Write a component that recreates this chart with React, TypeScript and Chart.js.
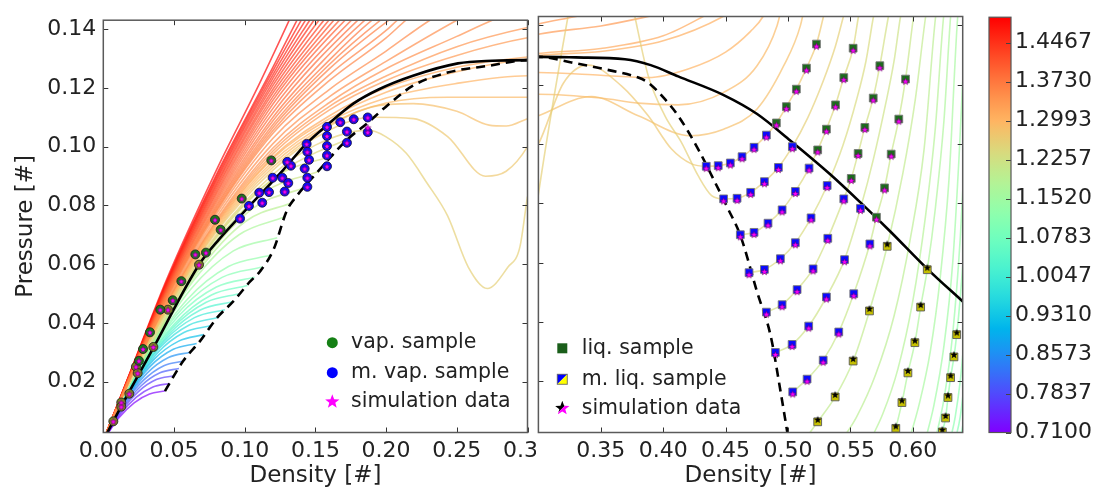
import React, { useEffect, useRef } from "react";
import { Chart, registerables } from "chart.js";
Chart.register(...registerables);

type Pt = [number, number];
const FAMILY = '"DejaVu Sans", "Liberation Sans", sans-serif';

// ---------------- axes / labels ----------------
const xLeftRange: Pt = [0, 0.3];
const xRightRange: Pt = [0.3, 0.64];
const yRange: Pt = [0.0027, 0.143];
const yTickValues = [0.02, 0.04, 0.06, 0.08, 0.1, 0.12, 0.14];
const xTickLeft = [0, 0.05, 0.1, 0.15, 0.2, 0.25, 0.3];
const xTickRight = [0.35, 0.4, 0.45, 0.5, 0.55, 0.6];
const cbRange: Pt = [0.71, 1.495];
const cbTickValues = [0.71, 0.7837, 0.8573, 0.931, 1.0047, 1.0783, 1.152, 1.2257, 1.2993, 1.373, 1.4467];
const xTitle = "Density [#]";
const yTitle = "Pressure [#]";
const legendLeftLabels = ["vap. sample", "m. vap. sample", "simulation data"];
const legendRightLabels = ["liq. sample", "m. liq. sample", "simulation data"];

// ---------------- samples ----------------
const vapSample: Pt[] = [[0.079, 0.0751], [0.083, 0.0717], [0.0651, 0.0633], [0.0726, 0.0639], [0.0552, 0.0542], [0.0491, 0.0477], [0.0403, 0.0445], [0.033, 0.0368], [0.0281, 0.0311], [0.0252, 0.0271], [0.0979, 0.0823], [0.1188, 0.0953]];
const vapSampleOlive: Pt[] = [[0.0677, 0.0598], [0.0458, 0.0445], [0.0354, 0.0318], [0.0231, 0.0251], [0.0243, 0.0229], [0.0184, 0.0159], [0.0127, 0.0129], [0.0127, 0.0115], [0.0071, 0.0065]];
const mVapSample: Pt[] = [[0.0967, 0.0755], [0.103, 0.0798], [0.1103, 0.0843], [0.1124, 0.0809], [0.1172, 0.0845], [0.1198, 0.0894], [0.1266, 0.0894], [0.1308, 0.0876], [0.1283, 0.0847], [0.1301, 0.0948], [0.1327, 0.0935], [0.1424, 0.0925], [0.1443, 0.0894], [0.1443, 0.0863], [0.1438, 0.1009], [0.1443, 0.0982], [0.1455, 0.0955], [0.1582, 0.1067], [0.1582, 0.1036], [0.1582, 0.1002], [0.1582, 0.097], [0.1582, 0.0933], [0.1676, 0.1083], [0.1723, 0.1051], [0.1723, 0.1013], [0.1771, 0.1093], [0.187, 0.1099], [0.187, 0.1049]];
const simVapExtra: Pt[] = [[0.187, 0.1065]];

const liqSample: Pt[] = [[0.5228, 0.1337], [0.5148, 0.1256], [0.5067, 0.1185], [0.4987, 0.1126], [0.4907, 0.1071], [0.5308, 0.105], [0.5238, 0.098], [0.5522, 0.1323], [0.5736, 0.1264], [0.5942, 0.1219], [0.5447, 0.1224], [0.5683, 0.1155], [0.5381, 0.1132], [0.5888, 0.1084], [0.5616, 0.1056], [0.5827, 0.0966], [0.5562, 0.0968], [0.5774, 0.0852], [0.5507, 0.0884], [0.5709, 0.0753]];
const mLiqSample: Pt[] = [
  [0.4345, 0.0925], [0.4441, 0.0927], [0.4538, 0.0936], [0.4632, 0.0957], [0.4728, 0.0989], [0.4827, 0.103],
  [0.4484, 0.0815], [0.4592, 0.0817], [0.4701, 0.0837], [0.4811, 0.0873], [0.4923, 0.0921], [0.5035, 0.0991],
  [0.4618, 0.0694], [0.4728, 0.0702], [0.484, 0.0733], [0.4953, 0.0778], [0.5059, 0.084], [0.5169, 0.0919],
  [0.4688, 0.0566], [0.4811, 0.0577], [0.4939, 0.0613], [0.5059, 0.0667], [0.5185, 0.0751], [0.5314, 0.086],
  [0.4827, 0.0433], [0.4953, 0.0458], [0.5073, 0.0509], [0.5201, 0.0579], [0.5319, 0.0682], [0.5447, 0.0815],
  [0.4899, 0.0297], [0.5033, 0.0324], [0.5166, 0.0386], [0.5308, 0.0484], [0.5453, 0.061], [0.5581, 0.0783],
  [0.5038, 0.0164], [0.5153, 0.0207], [0.5282, 0.0271], [0.5407, 0.0366], [0.5527, 0.0495], [0.5656, 0.0663]];
const mLiqSampleYellow: Pt[] = [
  [0.5238, 0.0063], [0.5378, 0.0147], [0.5522, 0.0268], [0.5653, 0.0437], [0.5795, 0.0655],
  [0.5864, 0.0041], [0.5913, 0.0128], [0.5961, 0.0228], [0.6017, 0.033], [0.6063, 0.045], [0.6116, 0.0576],
  [0.6237, 0.0029], [0.6263, 0.0076], [0.6282, 0.0145], [0.6303, 0.0212], [0.633, 0.0282], [0.6352, 0.0357]];

// ---------------- coexistence / spinodal ----------------
const binodal: Pt[] = [[0, 0], [0.0071, 0.0066], [0.0354, 0.0315], [0.0677, 0.0598], [0.082, 0.0685], [0.099, 0.0775], [0.1273, 0.0921], [0.1438, 0.1011], [0.1583, 0.1073], [0.1768, 0.1146], [0.195, 0.1195], [0.219, 0.1241], [0.2508, 0.1283], [0.275, 0.1292], [0.3, 0.1294], [0.33, 0.1292], [0.3693, 0.1286], [0.39, 0.1266], [0.412, 0.1228], [0.4485, 0.1165], [0.4753, 0.1101], [0.502, 0.1011], [0.534, 0.0897], [0.558, 0.0803], [0.582, 0.0705], [0.6116, 0.0579], [0.6405, 0.0467]];
const spinodal: Pt[] = [[0.0436, 0.0168], [0.0566, 0.0271], [0.0684, 0.0338], [0.0802, 0.0416], [0.0919, 0.0473], [0.1037, 0.054], [0.1108, 0.0575], [0.1206, 0.0652], [0.1297, 0.0781], [0.1368, 0.0832], [0.1497, 0.0904], [0.1721, 0.1022], [0.1863, 0.1078], [0.1997, 0.1135], [0.219, 0.1207], [0.2435, 0.1252], [0.2728, 0.1275], [0.3, 0.1294], [0.3265, 0.1275], [0.3533, 0.1252], [0.38, 0.1224], [0.388, 0.1207], [0.4014, 0.1151], [0.412, 0.1095], [0.428, 0.0983], [0.4415, 0.0871], [0.452, 0.0781], [0.4619, 0.0691], [0.4753, 0.05], [0.486, 0.0355], [0.4941, 0.0164], [0.4994, 0.0029], [0.5005, 0]];

// ---------------- isotherms: vapour branches ----------------
const v071: Pt[] = [[0, 0], [0.0109, 0.0076], [0.0218, 0.0128], [0.0327, 0.0158], [0.0436, 0.0168]];
const v074: Pt[] = [[0, 0], [0.0117, 0.0087], [0.0234, 0.0147], [0.0351, 0.0182], [0.0468, 0.0194]];
const v077: Pt[] = [[0, 0], [0.0125, 0.0098], [0.025, 0.0167], [0.0375, 0.0207], [0.05, 0.022]];
const v080: Pt[] = [[0, 0], [0.0134, 0.0109], [0.0268, 0.0186], [0.0401, 0.023], [0.0535, 0.0245]];
const v083: Pt[] = [[0, 0], [0.0143, 0.0121], [0.0285, 0.0205], [0.0428, 0.0254], [0.057, 0.027]];
const v086: Pt[] = [[0, 0], [0.0154, 0.0133], [0.0308, 0.0228], [0.0461, 0.0282], [0.0615, 0.03]];
const v089: Pt[] = [[0, 0], [0.0165, 0.0145], [0.033, 0.0251], [0.0495, 0.031], [0.066, 0.033]];
const v092: Pt[] = [[0, 0], [0.0178, 0.0158], [0.0355, 0.0274], [0.0533, 0.0338], [0.071, 0.036]];
const v095: Pt[] = [[0, 0], [0.019, 0.0171], [0.038, 0.0296], [0.057, 0.0367], [0.076, 0.039]];
const v0975: Pt[] = [[0, 0], [0.0203, 0.0184], [0.0405, 0.0318], [0.0608, 0.0393], [0.081, 0.0418]];
const v100: Pt[] = [[0, 0], [0.0215, 0.0197], [0.043, 0.0338], [0.0645, 0.0418], [0.086, 0.0445]];
const v1025: Pt[] = [[0, 0], [0.0229, 0.0211], [0.0458, 0.0359], [0.0686, 0.0444], [0.0915, 0.0472]];
const v105: Pt[] = [[0, 0], [0.0243, 0.0225], [0.0485, 0.038], [0.0728, 0.047], [0.097, 0.05]];
const v107: Pt[] = [[0, 0], [0.0255, 0.0237], [0.051, 0.04], [0.0765, 0.0495], [0.102, 0.0527]];
const v109: Pt[] = [[0, 0], [0.027, 0.025], [0.0535, 0.0425], [0.08, 0.0522], [0.107, 0.0555]];
const v111: Pt[] = [[0, 0], [0.028, 0.0261], [0.056, 0.045], [0.084, 0.0555], [0.1125, 0.059]];
const v113: Pt[] = [[0, 0], [0.0295, 0.0277], [0.059, 0.0478], [0.0885, 0.0592], [0.118, 0.063]];
const v115: Pt[] = [[0, 0], [0.031, 0.0292], [0.062, 0.0515], [0.092, 0.0645], [0.123, 0.069]];
const v117: Pt[] = [[0, 0], [0.032, 0.0302], [0.064, 0.0545], [0.096, 0.07], [0.128, 0.076]];
const v119: Pt[] = [[0, 0], [0.0335, 0.0317], [0.067, 0.0575], [0.1005, 0.0745], [0.134, 0.081]];
const v1205: Pt[] = [[0, 0], [0.0355, 0.0337], [0.071, 0.061], [0.1065, 0.0792], [0.142, 0.086]];
const v122: Pt[] = [[0, 0], [0.038, 0.0362], [0.076, 0.0655], [0.114, 0.0845], [0.152, 0.0915]];
const v1232: Pt[] = [[0, 0], [0.0408, 0.0392], [0.0815, 0.0703], [0.1223, 0.0898], [0.163, 0.097]];
const v1245: Pt[] = [[0, 0], [0.0438, 0.0425], [0.0875, 0.0735], [0.1313, 0.093], [0.175, 0.103]];
const vaporTemps = [0.71, 0.74, 0.77, 0.8, 0.83, 0.86, 0.89, 0.92, 0.95, 0.975, 1.0, 1.025, 1.05, 1.07, 1.09, 1.11, 1.13, 1.15, 1.17, 1.19, 1.205, 1.22, 1.232, 1.245];
const vaporBranches = [v071, v074, v077, v080, v083, v086, v089, v092, v095, v0975, v100, v1025, v105, v107, v109, v111, v113, v115, v117, v119, v1205, v122, v1232, v1245];

// ---------------- isotherms: near-critical (full range) ----------------
const i1258: Pt[] = [[0, 0], [0.02, 0.0213], [0.045, 0.0442], [0.08, 0.07], [0.12, 0.0905], [0.15, 0.1005], [0.1875, 0.1056], [0.1997, 0.1034], [0.2143, 0.0977], [0.2289, 0.0876], [0.2435, 0.0764], [0.2581, 0.059], [0.2716, 0.0517], [0.2862, 0.059], [0.2946, 0.0658], [0.3, 0.083], [0.3237, 0.143], [0.335, 0.168], [0.35, 0.178], [0.365, 0.168], [0.3773, 0.143], [0.388, 0.123], [0.4014, 0.1095], [0.4147, 0.1005], [0.428, 0.0893], [0.4388, 0.0826], [0.4484, 0.0815], [0.4592, 0.0817], [0.4701, 0.0837], [0.4811, 0.0873], [0.4923, 0.0921], [0.5035, 0.0991], [0.516, 0.109], [0.528, 0.121], [0.538, 0.133], [0.5444, 0.143], [0.55, 0.152]];
const i1272: Pt[] = [[0, 0], [0.02, 0.0214], [0.045, 0.0445], [0.08, 0.071], [0.12, 0.092], [0.15, 0.103], [0.19, 0.11], [0.2192, 0.1095], [0.2435, 0.1034], [0.2703, 0.0899], [0.2849, 0.0916], [0.3, 0.1], [0.32, 0.1205], [0.3398, 0.1266], [0.3665, 0.1196], [0.388, 0.1095], [0.4067, 0.0983], [0.4227, 0.0933], [0.4345, 0.0925], [0.4441, 0.0927], [0.4538, 0.0936], [0.4632, 0.0957], [0.4728, 0.0989], [0.4827, 0.103], [0.4907, 0.1071], [0.4987, 0.1126], [0.5067, 0.1185], [0.5148, 0.1256], [0.5228, 0.1337], [0.5284, 0.143], [0.532, 0.15]];
const i1285: Pt[] = [[0, 0], [0.02, 0.0215], [0.045, 0.0448], [0.08, 0.0715], [0.12, 0.093], [0.16, 0.107], [0.19, 0.1135], [0.2192, 0.1146], [0.25, 0.112], [0.2728, 0.1073], [0.2849, 0.107], [0.3, 0.1095], [0.3425, 0.116], [0.38, 0.1095], [0.4216, 0.1028], [0.4484, 0.105], [0.4752, 0.1118], [0.4966, 0.1264], [0.51, 0.14], [0.515, 0.15]];
const i1293: Pt[] = [[0, 0], [0.02, 0.0216], [0.045, 0.0451], [0.08, 0.072], [0.12, 0.094], [0.16, 0.1075], [0.2, 0.1148], [0.2435, 0.1168], [0.3, 0.1168], [0.35, 0.1155], [0.38, 0.1138], [0.412, 0.1132], [0.4484, 0.1174], [0.4752, 0.1264], [0.4913, 0.14], [0.497, 0.15]];
const i1300: Pt[] = [[0, 0], [0.02, 0.0217], [0.045, 0.0454], [0.08, 0.0725], [0.12, 0.095], [0.16, 0.1085], [0.2, 0.1165], [0.25, 0.1215], [0.3, 0.1241], [0.35, 0.1232], [0.388, 0.1224], [0.42, 0.1253], [0.45, 0.131], [0.47, 0.138], [0.48, 0.143], [0.487, 0.15]];
const i1310: Pt[] = [[0, 0], [0.02, 0.0218], [0.045, 0.0457], [0.08, 0.073], [0.12, 0.096], [0.16, 0.1095], [0.2, 0.1185], [0.25, 0.1255], [0.3, 0.1298], [0.35, 0.1312], [0.4, 0.1348], [0.448, 0.143], [0.46, 0.1465]];
const i1318: Pt[] = [[0, 0], [0.02, 0.0219], [0.045, 0.046], [0.08, 0.0735], [0.12, 0.0965], [0.16, 0.1105], [0.2, 0.12], [0.25, 0.127], [0.3, 0.1305], [0.35, 0.1322], [0.4, 0.1365], [0.432, 0.143], [0.45, 0.1475]];
const i1335: Pt[] = [[0, 0], [0.02, 0.022], [0.045, 0.0464], [0.08, 0.074], [0.12, 0.0975], [0.16, 0.1125], [0.2, 0.1225], [0.25, 0.131], [0.3, 0.137], [0.35, 0.1398], [0.388, 0.143], [0.42, 0.146]];
const i1342: Pt[] = [[0, 0], [0.02, 0.0221], [0.045, 0.0467], [0.08, 0.0745], [0.12, 0.0985], [0.16, 0.1137], [0.2, 0.124], [0.25, 0.134], [0.3, 0.1405], [0.33, 0.143], [0.36, 0.146]];
const loopTemps = [1.258, 1.272, 1.285, 1.293, 1.3, 1.31, 1.318, 1.335, 1.342];
const loopCurves = [i1258, i1272, i1285, i1293, i1300, i1310, i1318, i1335, i1342];

// ---------------- isotherms: supercritical (leave the top) ----------------
const s1347: Pt[] = [[0, 0], [0.02, 0.0222], [0.045, 0.047], [0.08, 0.075], [0.12, 0.0995], [0.16, 0.115], [0.2, 0.1265], [0.25, 0.1375], [0.275, 0.143], [0.29, 0.146]];
const s1350: Pt[] = [[0, 0], [0.02, 0.0223], [0.045, 0.0475], [0.08, 0.076], [0.12, 0.101], [0.16, 0.117], [0.2, 0.129], [0.25, 0.143], [0.27, 0.148]];
const s1355: Pt[] = [[0, 0], [0.02, 0.0224], [0.045, 0.048], [0.08, 0.077], [0.12, 0.1028], [0.16, 0.1195], [0.2, 0.1325], [0.231, 0.143], [0.25, 0.148]];
const s1360: Pt[] = [[0, 0], [0.02, 0.0225], [0.045, 0.0485], [0.08, 0.0778], [0.12, 0.1045], [0.16, 0.1225], [0.2, 0.137], [0.214, 0.143], [0.23, 0.149]];
const s1364: Pt[] = [[0, 0], [0.02, 0.0226], [0.045, 0.0487], [0.08, 0.0783], [0.12, 0.1055], [0.16, 0.1245], [0.2, 0.1395], [0.208, 0.143], [0.225, 0.149]];
const s1368: Pt[] = [[0, 0], [0.02, 0.0227], [0.045, 0.049], [0.08, 0.0788], [0.12, 0.1065], [0.16, 0.1265], [0.202, 0.143], [0.22, 0.149]];
const s1372: Pt[] = [[0, 0], [0.02, 0.0228], [0.045, 0.0493], [0.08, 0.0794], [0.12, 0.1075], [0.16, 0.128], [0.196, 0.143], [0.213, 0.149]];
const s1378: Pt[] = [[0, 0], [0.02, 0.0229], [0.045, 0.0496], [0.08, 0.08], [0.12, 0.1088], [0.16, 0.1295], [0.19, 0.143], [0.21, 0.15]];
const s1384: Pt[] = [[0, 0], [0.02, 0.023], [0.045, 0.0499], [0.08, 0.0808], [0.12, 0.11], [0.16, 0.1315], [0.185, 0.143], [0.2, 0.149]];
const s1390: Pt[] = [[0, 0], [0.02, 0.0231], [0.045, 0.0502], [0.08, 0.0815], [0.12, 0.1115], [0.18, 0.143], [0.2, 0.151]];
const s1397: Pt[] = [[0, 0], [0.02, 0.0232], [0.045, 0.0505], [0.08, 0.0822], [0.12, 0.113], [0.1755, 0.143], [0.192, 0.15]];
const s1405: Pt[] = [[0, 0], [0.02, 0.0233], [0.045, 0.0509], [0.08, 0.083], [0.12, 0.1145], [0.171, 0.143], [0.19, 0.151]];
const s1412: Pt[] = [[0, 0], [0.02, 0.0234], [0.045, 0.0512], [0.08, 0.0838], [0.12, 0.1158], [0.167, 0.143], [0.182, 0.15]];
const s1420: Pt[] = [[0, 0], [0.02, 0.0235], [0.045, 0.0516], [0.08, 0.0845], [0.12, 0.117], [0.163, 0.143], [0.18, 0.152]];
const s1427: Pt[] = [[0, 0], [0.02, 0.0236], [0.045, 0.052], [0.08, 0.0853], [0.12, 0.1183], [0.1595, 0.143], [0.172, 0.15]];
const s1435: Pt[] = [[0, 0], [0.02, 0.0237], [0.045, 0.0523], [0.08, 0.086], [0.12, 0.1195], [0.156, 0.143], [0.17, 0.151]];
const s1442: Pt[] = [[0, 0], [0.02, 0.0238], [0.045, 0.0526], [0.08, 0.0868], [0.12, 0.1208], [0.1525, 0.143], [0.164, 0.15]];
const s1450: Pt[] = [[0, 0], [0.02, 0.0239], [0.045, 0.053], [0.08, 0.0875], [0.12, 0.122], [0.149, 0.143], [0.16, 0.15]];
const s1457: Pt[] = [[0, 0], [0.02, 0.024], [0.045, 0.0533], [0.08, 0.0883], [0.12, 0.1233], [0.146, 0.143], [0.157, 0.151]];
const s1465: Pt[] = [[0, 0], [0.02, 0.0241], [0.045, 0.0536], [0.08, 0.089], [0.12, 0.1245], [0.143, 0.143], [0.155, 0.152]];
const s1472: Pt[] = [[0, 0], [0.02, 0.0242], [0.045, 0.054], [0.08, 0.0898], [0.12, 0.1258], [0.14, 0.143], [0.152, 0.153]];
const s1480: Pt[] = [[0, 0], [0.02, 0.0243], [0.045, 0.0543], [0.08, 0.0905], [0.12, 0.127], [0.137, 0.143], [0.15, 0.155]];
const s1495: Pt[] = [[0, 0], [0.02, 0.0245], [0.045, 0.055], [0.08, 0.092], [0.11, 0.121], [0.1315, 0.143], [0.14, 0.152]];
const superTemps = [1.347, 1.35, 1.355, 1.36, 1.364, 1.368, 1.372, 1.378, 1.384, 1.39, 1.397, 1.405, 1.412, 1.42, 1.427, 1.435, 1.442, 1.45, 1.457, 1.465, 1.472, 1.48, 1.495];
const superCurves = [s1347, s1350, s1355, s1360, s1364, s1368, s1372, s1378, s1384, s1390, s1397, s1405, s1412, s1420, s1427, s1435, s1442, s1450, s1457, s1465, s1472, s1480, s1495];

// ---------------- isotherms: liquid branches ----------------
const l1245: Pt[] = [[0.4618, 0.0694], [0.4728, 0.0702], [0.484, 0.0733], [0.4953, 0.0778], [0.5059, 0.084], [0.5169, 0.0919], [0.5238, 0.098], [0.5308, 0.105], [0.5381, 0.1132], [0.5447, 0.1224], [0.5522, 0.1323], [0.5565, 0.143], [0.56, 0.15]];
const l1238: Pt[] = [[0.4688, 0.0566], [0.4811, 0.0577], [0.4939, 0.0613], [0.5059, 0.0667], [0.5185, 0.0751], [0.5314, 0.086], [0.544, 0.0995], [0.555, 0.115], [0.5625, 0.128], [0.5685, 0.143], [0.572, 0.15]];
const l1230: Pt[] = [[0.4827, 0.0433], [0.4953, 0.0458], [0.5073, 0.0509], [0.5201, 0.0579], [0.5319, 0.0682], [0.5447, 0.0815], [0.5507, 0.0884], [0.5562, 0.0968], [0.5616, 0.1056], [0.5683, 0.1155], [0.5736, 0.1264], [0.5805, 0.143], [0.584, 0.15]];
const l1222: Pt[] = [[0.4899, 0.0297], [0.5033, 0.0324], [0.5166, 0.0386], [0.5308, 0.0484], [0.5453, 0.061], [0.5581, 0.0783], [0.5685, 0.095], [0.578, 0.113], [0.585, 0.128], [0.5902, 0.143], [0.594, 0.15]];
const l1213: Pt[] = [[0.5038, 0.0164], [0.5153, 0.0207], [0.5282, 0.0271], [0.5407, 0.0366], [0.5527, 0.0495], [0.5656, 0.0663], [0.5709, 0.0753], [0.5774, 0.0852], [0.5827, 0.0966], [0.5888, 0.1084], [0.5942, 0.1219], [0.6006, 0.143], [0.603, 0.15]];
const l1203: Pt[] = [[0.513, 0], [0.5238, 0.0063], [0.5378, 0.0147], [0.5522, 0.0268], [0.5653, 0.0437], [0.5795, 0.0655], [0.592, 0.09], [0.602, 0.115], [0.6103, 0.143], [0.613, 0.15]];
const l1193: Pt[] = [[0.543, 0], [0.555, 0.008], [0.57, 0.022], [0.585, 0.042], [0.598, 0.068], [0.609, 0.098], [0.6183, 0.143], [0.621, 0.15]];
const l1183: Pt[] = [[0.566, 0], [0.576, 0.009], [0.588, 0.024], [0.6, 0.047], [0.61, 0.075], [0.618, 0.105], [0.6247, 0.143], [0.627, 0.15]];
const l1172: Pt[] = [[0.584, 0], [0.5864, 0.0041], [0.5913, 0.0128], [0.5961, 0.0228], [0.6017, 0.033], [0.6063, 0.045], [0.6116, 0.0576], [0.618, 0.078], [0.625, 0.108], [0.6303, 0.143], [0.632, 0.15]];
const l1161: Pt[] = [[0.597, 0], [0.605, 0.012], [0.614, 0.03], [0.622, 0.055], [0.629, 0.088], [0.636, 0.143], [0.638, 0.15]];
const l1150: Pt[] = [[0.61, 0], [0.617, 0.012], [0.625, 0.032], [0.632, 0.06], [0.637, 0.095], [0.641, 0.13]];
const l1140: Pt[] = [[0.618, 0], [0.625, 0.014], [0.632, 0.036], [0.638, 0.068], [0.642, 0.1]];
const l1130: Pt[] = [[0.6225, 0], [0.6237, 0.0029], [0.6263, 0.0076], [0.6282, 0.0145], [0.6303, 0.0212], [0.633, 0.0282], [0.6352, 0.0357], [0.638, 0.048], [0.642, 0.07]];
const l1120: Pt[] = [[0.63, 0], [0.634, 0.008], [0.638, 0.02], [0.642, 0.038]];
const l1110: Pt[] = [[0.634, 0], [0.638, 0.008], [0.642, 0.022]];
const l1100: Pt[] = [[0.638, 0], [0.642, 0.01]];
const liquidTemps = [1.245, 1.238, 1.23, 1.222, 1.213, 1.203, 1.193, 1.183, 1.172, 1.161, 1.15, 1.14, 1.13, 1.12, 1.11, 1.1];
const liquidBranches = [l1245, l1238, l1230, l1222, l1213, l1203, l1193, l1183, l1172, l1161, l1150, l1140, l1130, l1120, l1110, l1100];

// ---------------- styling helpers ----------------
function rainbow(T: number, alpha: number): string {
  const t = Math.min(1, Math.max(0, (T - cbRange[0]) / (cbRange[1] - cbRange[0])));
  const r = Math.min(1, Math.abs(2 * t - 0.5));
  const g = Math.sin(Math.PI * t);
  const b = Math.cos((Math.PI * t) / 2);
  return `rgba(${Math.round(r * 255)},${Math.round(g * 255)},${Math.round(b * 255)},${alpha})`;
}

function starPath(ctx: CanvasRenderingContext2D, cx: number, cy: number, R: number) {
  ctx.beginPath();
  for (let i = 0; i < 10; i++) {
    const r = i % 2 === 0 ? R : R * 0.42;
    const a = -Math.PI / 2 + (i * Math.PI) / 5;
    const px = cx + r * Math.cos(a);
    const py = cy + r * Math.sin(a);
    if (i === 0) ctx.moveTo(px, py);
    else ctx.lineTo(px, py);
  }
  ctx.closePath();
}

function makeStar(R: number, fill: string, stroke: string | null, dy: number): HTMLCanvasElement {
  const s = Math.ceil(2 * R + 2 + 2 * Math.abs(dy));
  const c = document.createElement("canvas");
  c.width = s;
  c.height = s;
  const g = c.getContext("2d")!;
  starPath(g, s / 2, s / 2 + dy, R);
  g.fillStyle = fill;
  g.fill();
  if (stroke) {
    g.strokeStyle = stroke;
    g.lineWidth = 0.7;
    g.stroke();
  }
  return c;
}

const toXY = (pts: Pt[]) => pts.map(([x, y]) => ({ x, y }));

function isoDataset(pts: Pt[], T: number) {
  return {
    type: "line",
    data: toXY(pts),
    borderColor: rainbow(T, 0.68),
    borderWidth: 1.6,
    pointRadius: 0,
    fill: false,
    cubicInterpolationMode: "monotone",
    clip: 0,
    order: 5,
  };
}

function blackLine(pts: Pt[], dash: number[]) {
  return {
    type: "line",
    data: toXY(pts),
    borderColor: "#000",
    borderWidth: 2.6,
    borderDash: dash,
    pointRadius: 0,
    fill: false,
    cubicInterpolationMode: "monotone",
    clip: 0,
    order: 2,
  };
}

function markerDataset(pts: Pt[], style: any, radius: number, fill: string, edge: string, order: number) {
  return {
    type: "scatter",
    data: toXY(pts),
    pointStyle: style,
    pointRadius: radius,
    backgroundColor: fill,
    borderColor: edge,
    borderWidth: 1,
    showLine: false,
    clip: 0,
    order,
  };
}

function allIsotherms() {
  const ds: any[] = [];
  superCurves.forEach((c, i) => ds.push(isoDataset(c, superTemps[i])));
  loopCurves.forEach((c, i) => ds.push(isoDataset(c, loopTemps[i])));
  vaporBranches.forEach((c, i) => ds.push(isoDataset(c, vaporTemps[i])));
  liquidBranches.forEach((c, i) => ds.push(isoDataset(c, liquidTemps[i])));
  ds.push(blackLine(binodal, []));
  ds.push(blackLine(spinodal, [9, 6]));
  return ds;
}

function framePlugin(xt: number[], yt: number[]) {
  return {
    id: "frame",
    afterDatasetsDraw(chart: any) {
      const { ctx, chartArea: a, scales } = chart;
      ctx.save();
      ctx.strokeStyle = "#333";
      ctx.lineWidth = 1;
      ctx.beginPath();
      for (const v of xt) {
        const px = Math.round(scales.x.getPixelForValue(v)) + 0.5;
        ctx.moveTo(px, a.bottom);
        ctx.lineTo(px, a.bottom - 5);
        ctx.moveTo(px, a.top);
        ctx.lineTo(px, a.top + 5);
      }
      for (const v of yt) {
        const py = Math.round(scales.y.getPixelForValue(v)) + 0.5;
        ctx.moveTo(a.left, py);
        ctx.lineTo(a.left + 5, py);
        ctx.moveTo(a.right, py);
        ctx.lineTo(a.right - 5, py);
      }
      ctx.stroke();
      ctx.strokeStyle = "#5a5a5a";
      ctx.lineWidth = 1.5;
      ctx.strokeRect(a.left, a.top, a.right - a.left, a.bottom - a.top);
      ctx.restore();
    },
  };
}

type Marker = (ctx: CanvasRenderingContext2D, x: number, y: number) => void;
function legendPlugin(labels: string[], markers: Marker[], mx: number, tx: number, ys: number[]) {
  return {
    id: "customLegend",
    afterDraw(chart: any) {
      const ctx: CanvasRenderingContext2D = chart.ctx;
      ctx.save();
      labels.forEach((label, i) => {
        markers[i](ctx, mx, ys[i]);
        ctx.font = `20.5px ${FAMILY}`;
        ctx.fillStyle = "#222";
        ctx.textBaseline = "middle";
        ctx.textAlign = "left";
        ctx.fillText(label, tx, ys[i]);
      });
      ctx.restore();
    },
  };
}

const circleMarker = (fill: string): Marker => (ctx, x, y) => {
  ctx.beginPath();
  ctx.arc(x, y, 5.5, 0, Math.PI * 2);
  ctx.fillStyle = fill;
  ctx.fill();
};
const squareMarker = (fill: string): Marker => (ctx, x, y) => {
  ctx.fillStyle = fill;
  ctx.fillRect(x - 5, y - 5, 10, 10);
};
const splitSquareMarker: Marker = (ctx, x, y) => {
  const h = 5;
  ctx.beginPath();
  ctx.moveTo(x - h, y - h);
  ctx.lineTo(x + h, y - h);
  ctx.lineTo(x - h, y + h);
  ctx.closePath();
  ctx.fillStyle = "#0000ff";
  ctx.fill();
  ctx.beginPath();
  ctx.moveTo(x + h, y - h);
  ctx.lineTo(x + h, y + h);
  ctx.lineTo(x - h, y + h);
  ctx.closePath();
  ctx.fillStyle = "#ffff00";
  ctx.fill();
  ctx.strokeStyle = "rgba(90,90,90,0.8)";
  ctx.lineWidth = 1;
  ctx.strokeRect(x - h, y - h, 2 * h, 2 * h);
};
const starMarker = (fill: string): Marker => (ctx, x, y) => {
  starPath(ctx, x, y, 7.5);
  ctx.fillStyle = fill;
  ctx.fill();
};
const splitStarMarker: Marker = (ctx, x, y) => {
  ctx.save();
  starPath(ctx, x, y, 7.5);
  ctx.clip();
  ctx.beginPath();
  ctx.moveTo(x - 10, y - 10);
  ctx.lineTo(x + 10, y - 10);
  ctx.lineTo(x - 10, y + 10);
  ctx.closePath();
  ctx.fillStyle = "#000";
  ctx.fill();
  ctx.beginPath();
  ctx.moveTo(x + 10, y - 10);
  ctx.lineTo(x + 10, y + 10);
  ctx.lineTo(x - 10, y + 10);
  ctx.closePath();
  ctx.fillStyle = "#ff00ff";
  ctx.fill();
  ctx.restore();
};

const colorbarPlugin = {
  id: "colorbar",
  afterDraw(chart: any) {
    const { ctx, chartArea: a, scales } = chart;
    ctx.save();
    const grad = ctx.createLinearGradient(0, a.bottom, 0, a.top);
    const n = 60;
    for (let i = 0; i <= n; i++) {
      const T = cbRange[0] + ((cbRange[1] - cbRange[0]) * i) / n;
      grad.addColorStop(i / n, rainbow(T, 1));
    }
    ctx.fillStyle = grad;
    ctx.fillRect(a.left, a.top, a.right - a.left, a.bottom - a.top);
    ctx.strokeStyle = "#444";
    ctx.lineWidth = 1;
    ctx.beginPath();
    for (const v of cbTickValues) {
      const py = Math.round(scales.y.getPixelForValue(v)) + 0.5;
      ctx.moveTo(a.right, py);
      ctx.lineTo(a.right - 5, py);
    }
    ctx.stroke();
    ctx.strokeStyle = "#555";
    ctx.lineWidth = 1.2;
    ctx.strokeRect(a.left, a.top, a.right - a.left, a.bottom - a.top);
    ctx.restore();
  },
};

const tickFont = { family: FAMILY, size: 22 };
const titleFont = { family: FAMILY, size: 23 };

function xScale(range: Pt, ticks: number[], height: number) {
  return {
    type: "linear",
    position: "bottom",
    min: range[0],
    max: range[1],
    afterBuildTicks: (s: any) => {
      s.ticks = ticks.map((v) => ({ value: v }));
    },
    afterFit: (s: any) => {
      s.height = height;
    },
    ticks: { autoSkip: false, maxRotation: 0, minRotation: 0, padding: 6, color: "#222", font: tickFont, callback: (v: any) => Number(v).toFixed(2) },
    grid: { display: false, drawTicks: false },
    border: { display: false },
    title: { display: true, text: xTitle, color: "#222", font: titleFont, padding: { top: 0, bottom: 0 } },
  };
}

const W1 = 560;
const LEFT2 = 536;
const W2 = 436;
const LEFT3 = 972;
const W3 = 128;

export default function App() {
  const r1 = useRef<HTMLCanvasElement>(null);
  const r2 = useRef<HTMLCanvasElement>(null);
  const r3 = useRef<HTMLCanvasElement>(null);

  useEffect(() => {
    const starMagL = makeStar(3.4, "#ff00ff", "rgba(90,0,90,0.7)", 0.5);
    const starMagR = makeStar(3.6, "#ff00ff", "rgba(90,0,90,0.7)", 2.5);
    const starBlkR = makeStar(4, "#000000", null, -2);

    const common = {
      responsive: false,
      animation: false,
      events: [],
      plugins: { legend: { display: false }, tooltip: { enabled: false } },
    };

    const leftData = [
      markerDataset([...vapSample, ...vapSampleOlive, ...mVapSample, ...simVapExtra], starMagL, 3, "#ff00ff", "#ff00ff", 0),
      markerDataset(vapSample, "circle", 4.5, "#158015", "rgba(30,30,30,0.85)", 1),
      markerDataset(vapSampleOlive, "circle", 4.5, "#7b8420", "rgba(30,30,30,0.85)", 1),
      markerDataset(mVapSample, "circle", 4.5, "#0a0aff", "rgba(20,20,60,0.85)", 1),
      ...allIsotherms(),
    ];

    const c1 = new Chart(r1.current!, {
      type: "scatter",
      data: { datasets: leftData as any },
      options: {
        ...common,
        layout: { padding: { left: 0, right: W1 - 527.5, top: 16.5, bottom: 0 }, autoPadding: false },
        scales: {
          x: xScale(xLeftRange, xTickLeft, 57.5),
          y: {
            type: "linear",
            position: "left",
            min: yRange[0],
            max: yRange[1],
            afterBuildTicks: (s: any) => {
              s.ticks = yTickValues.map((v) => ({ value: v }));
            },
            afterFit: (s: any) => {
              s.width = 103.3;
            },
            ticks: { padding: 7, color: "#222", font: tickFont, callback: (v: any) => Number(v).toFixed(2) },
            grid: { display: false, drawTicks: false },
            border: { display: false },
            title: { display: true, text: yTitle, color: "#222", font: titleFont, padding: { top: 12.7, bottom: 0 } },
          },
        } as any,
      } as any,
      plugins: [
        framePlugin(xTickLeft, yTickValues),
        legendPlugin(legendLeftLabels, [circleMarker("#158015"), circleMarker("#0000ff"), starMarker("#ff00ff")], 332.3, 351, [342.7, 372.7, 401.7]),
      ],
    });

    const rightData = [
      markerDataset([...liqSample, ...mLiqSample], starMagR, 3, "#ff00ff", "#ff00ff", 0),
      markerDataset(mLiqSampleYellow, starBlkR, 3, "#000", "#000", 0),
      markerDataset(liqSample, "rect", 5.5, "#1d6b1d", "rgba(120,120,120,0.9)", 1),
      markerDataset(mLiqSample, "rect", 5.5, "#0a0aff", "rgba(120,120,120,0.9)", 1),
      markerDataset(mLiqSampleYellow, "rect", 5.5, "#c6c000", "rgba(90,90,90,0.9)", 1),
      ...allIsotherms(),
    ];

    const c2 = new Chart(r2.current!, {
      type: "scatter",
      data: { datasets: rightData as any },
      options: {
        ...common,
        layout: { padding: { left: 538.4 - LEFT2, right: W2 - (962.7 - LEFT2), top: 16.5, bottom: 0 }, autoPadding: false },
        scales: {
          x: xScale(xRightRange, xTickRight, 57.5),
          y: { type: "linear", display: false, min: yRange[0], max: yRange[1] },
        } as any,
      } as any,
      plugins: [
        framePlugin(xTickRight, yTickValues),
        legendPlugin(legendRightLabels, [squareMarker("#1a5e1a"), splitSquareMarker, splitStarMarker], 562.3 - LEFT2, 581.7 - LEFT2, [348.3, 379.3, 408.3]),
      ],
    });

    const c3 = new Chart(r3.current!, {
      type: "scatter",
      data: { datasets: [{ data: [] }] as any },
      options: {
        ...common,
        layout: { padding: { left: 989 - LEFT3, right: 0, top: 16.5, bottom: 57.5 }, autoPadding: false },
        scales: {
          x: { type: "linear", display: false, min: 0, max: 1 },
          y: {
            type: "linear",
            position: "right",
            min: cbRange[0],
            max: cbRange[1],
            afterBuildTicks: (s: any) => {
              s.ticks = cbTickValues.map((v) => ({ value: v }));
            },
            afterFit: (s: any) => {
              s.width = W3 - (1011 - LEFT3);
            },
            ticks: { padding: 4, color: "#222", font: tickFont, callback: (v: any) => Number(v).toFixed(4) },
            grid: { display: false, drawTicks: false },
            border: { display: false },
          },
        } as any,
      } as any,
      plugins: [colorbarPlugin],
    });

    return () => {
      c1.destroy();
      c2.destroy();
      c3.destroy();
    };
  }, []);

  return (
    <div style={{ position: "absolute", left: 0, top: 0, width: 1100, height: 490, background: "#fff", overflow: "hidden" }}>
      <canvas ref={r1} width={W1} height={490} style={{ position: "absolute", left: 0, top: 0, width: W1, height: 490 }} />
      <canvas ref={r2} width={W2} height={490} style={{ position: "absolute", left: LEFT2, top: 0, width: W2, height: 490, background: "#fff" }} />
      <canvas ref={r3} width={W3} height={490} style={{ position: "absolute", left: LEFT3, top: 0, width: W3, height: 490 }} />
    </div>
  );
}
